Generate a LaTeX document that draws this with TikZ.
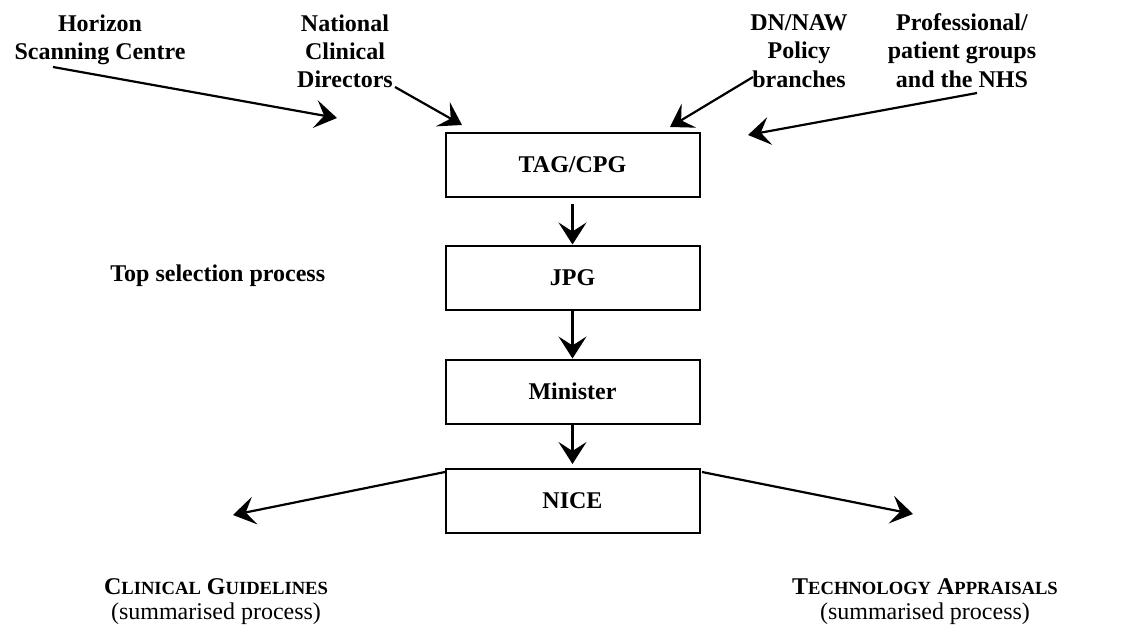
\documentclass[tikz,border=0pt]{standalone}
\usepackage{fontspec}
\setmainfont{Liberation Serif}
\usetikzlibrary{arrows.meta,calc}
\newcommand\mysc[1]{{\fontsize{9.3pt}{12pt}\selectfont #1}}
\begin{document}
\begin{tikzpicture}[x=0.5pt,y=-0.5pt,
  src/.style={font=\fontsize{12pt}{14.2pt}\selectfont\bfseries, align=center, inner sep=0pt, anchor=north},
  stage/.style={draw, line width=1pt, minimum width=127pt, minimum height=32pt, inner sep=0pt, font=\fontsize{12pt}{14pt}\selectfont\bfseries},
  flow/.style={line width=1.1pt, -{Stealth[length=11pt,width=14pt,inset=4.5pt]}},
  outcome/.style={font=\fontsize{12pt}{12.5pt}\selectfont, align=center, inner sep=0pt, anchor=north}]
\useasboundingbox (0,0) rectangle (1147,632);
% sources
\node[src] (hsc) at (100,14) {Horizon\\Scanning Centre};
\node[src] (ncd) at (345,14) {National\\Clinical\\Directors};
\node[src] (dn) at (799,14) {DN/NAW\\Policy\\branches};
\node[src] (prof) at (962,13) {Professional/\\patient groups\\and the NHS};
\node[font=\fontsize{12pt}{14pt}\selectfont\bfseries, anchor=base west, inner sep=0pt] (top) at (110,281) {Top selection process};
% stages
\node[stage] (tag) at (572.5,165) {TAG/CPG};
\node[stage] (jpg) at (572.5,277.5) {JPG};
\node[stage] (min) at (572.5,391.5) {Minister};
\node[stage] (nice) at (572.5,501) {NICE};
% outcomes
\node[outcome] (cg) at (216,578) {\textbf{C\mysc{LINICAL} G\mysc{UIDELINES}}\\(summarised process)};
\node[outcome] (ta) at (925,578) {\textbf{T\mysc{ECHNOLOGY} A\mysc{PPRAISALS}}\\(summarised process)};
% arrow ends
\coordinate (hsc-a) at (53,67);   \coordinate (hsc-b) at (337,118);
\coordinate (ncd-a) at (395,87);  \coordinate (ncd-b) at (462,125);
\coordinate (dn-a) at (753,77);   \coordinate (dn-b) at (670,127);
\coordinate (prof-a) at (977,93); \coordinate (prof-b) at (748,135);
\coordinate (nice-l) at (445,472); \coordinate (nice-r) at (702,472);
\coordinate (cg-in) at (233,515); \coordinate (ta-in) at (913,514);
% connectors
\draw[flow] (hsc-a) -- (hsc-b);
\draw[flow] (ncd-a) -- (ncd-b);
\draw[flow] (dn-a) -- (dn-b);
\draw[flow] (prof-a) -- (prof-b);
\draw[flow] ([yshift=-3pt]tag.south) -- (jpg.north);
\draw[flow] (jpg.south) -- (min.north);
\draw[flow, shorten >=2pt] (min.south) -- (nice.north);
\draw[flow] (nice-l) -- (cg-in);
\draw[flow] (nice-r) -- (ta-in);
\end{tikzpicture}
\end{document}
